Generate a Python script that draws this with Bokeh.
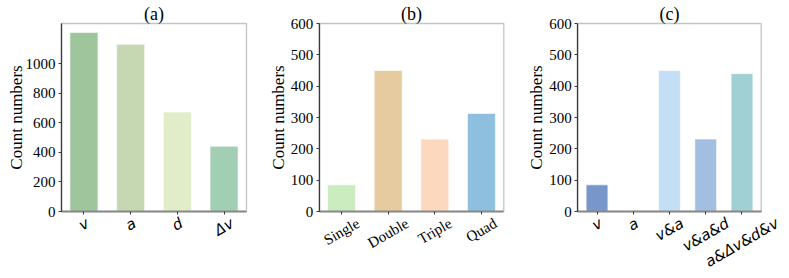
import math
from bokeh.plotting import figure
from bokeh.layouts import row
from bokeh.models import (Range1d, FixedTicker, LabelSet, Label, ColumnDataSource,
                          BoxAnnotation)
from bokeh.core.properties import value
from bokeh.embed import file_html
from bokeh.resources import INLINE

# ---------------- data ----------------
cats_a = ["v", "a", "d", "Δv"]
vals_a = [1210, 1130, 672, 441]
colors_a = ["#9ec59b", "#c5d8b2", "#e1ecc8", "#a2cfb3"]
yticks_a = [0, 200, 400, 600, 800, 1000]

cats_b = ["Single", "Double", "Triple", "Quad"]
vals_b = [85, 450, 231, 313]
colors_b = ["#cbecbe", "#e5cb9f", "#fcd9be", "#8ebfde"]
yticks_b = [0, 100, 200, 300, 400, 500, 600]

cats_c = ["v", "a", "v&a", "v&a&d", "a&Δv&d&v"]
vals_c = [85, 0, 450, 231, 440]
colors_c = ["#7896c9", "#c9e0f3", "#c4def5", "#a2bee0", "#a0d0d4"]
yticks_c = [0, 100, 200, 300, 400, 500, 600]

titles = ["(a)", "(b)", "(c)"]
ylabel = "Count numbers"

SERIF = "Liberation Serif"
SANS = "DejaVu Sans"
DARK = "#3a3a3a"

# approximate glyph widths (em) for centring rotated labels
W_SERIF = {"S": .556, "i": .278, "n": .5, "g": .5, "l": .278, "e": .444, "D": .722,
           "o": .5, "u": .5, "b": .5, "T": .611, "r": .333, "p": .5, "Q": .722,
           "a": .444, "d": .5}
W_SANS = {"v": .592, "a": .613, "d": .635, "&": .78, "Δ": .684}

FIG_H = 276
FRAME_TOP = 23
FRAME_BOT = 211


def text_width(s, table, size):
    return sum(table.get(ch, 0.55) for ch in s) * size


def make_panel(cats, vals, colors, yticks, ymax, title, label_font, label_style,
               table, fig_w, fl, fr, ylab_px):
    n = len(cats)
    idx = list(range(n))
    m = 0.05 * (n - 1 + 0.6)
    x0, x1 = -0.3 - m, n - 1 + 0.3 + m
    u = (fr - fl) / (x1 - x0)
    k = (FRAME_BOT - FRAME_TOP) / ymax
    xr = Range1d(x0 - fl / u, x1 + (fig_w - fr) / u)
    yr = Range1d(-(FIG_H - FRAME_BOT) / k, ymax + FRAME_TOP / k)

    p = figure(width=fig_w, height=FIG_H, output_backend="svg", toolbar_location=None,
               x_range=xr, y_range=yr, min_border=0)
    p.grid.visible = False
    p.outline_line_color = None
    p.background_fill_color = "white"
    p.border_fill_color = "white"

    # frame box (spines)
    p.add_layout(BoxAnnotation(left=x0, right=x1, bottom=0, top=ymax,
                               fill_alpha=0, line_color=DARK, line_width=1.3,
                               level="underlay"))

    src = ColumnDataSource(dict(x=idx, top=vals, color=colors))
    p.vbar(x="x", top="top", width=0.6, source=src, fill_color="color",
           line_color="white", line_alpha=0.6, line_width=1)

    # y axis
    ya = p.yaxis[0]
    ya.fixed_location = x0
    ya.bounds = (0, ymax)
    ya.ticker = FixedTicker(ticks=yticks)
    ya.major_label_text_font = SERIF
    ya.major_label_text_font_size = "15px"
    ya.major_label_text_color = "black"
    ya.major_tick_out = 3
    ya.major_tick_in = 0
    ya.minor_tick_out = 0
    ya.minor_tick_in = 0
    ya.major_label_standoff = 3
    ya.axis_line_color = DARK
    ya.axis_line_width = 1.3
    ya.major_tick_line_color = DARK

    # x axis
    xa = p.xaxis[0]
    xa.fixed_location = 0
    xa.bounds = (x0, x1)
    xa.ticker = FixedTicker(ticks=idx)
    xa.major_label_overrides = {i: "" for i in idx}
    xa.major_tick_out = 3
    xa.major_tick_in = 0
    xa.minor_tick_out = 0
    xa.minor_tick_in = 0
    xa.axis_line_color = "#8a8a8a"
    xa.axis_line_width = 2
    xa.major_tick_line_color = DARK

    # rotated, centre-aligned category labels
    size = 15
    ang = math.radians(30)
    drops = []
    for c in cats:
        w = text_width(c, table, size)
        drops.append(-(4 + 0.5 * (w * math.sin(ang) + size * math.cos(ang))))
    lsrc = ColumnDataSource(dict(x=idx, y=[0] * n, text=cats, yo=drops))
    p.add_layout(LabelSet(x="x", y="y", text="text", source=lsrc, y_offset="yo",
                          angle=ang, text_align="center", text_baseline="middle",
                          text_font=value(label_font), text_font_style=value(label_style),
                          text_font_size=value(f"{size}px"), text_color="black"))

    # title
    p.add_layout(Label(x=(n - 1) / 2, y=ymax + 9.5 / k, text=title,
                       text_align="center", text_baseline="middle",
                       text_font=SERIF, text_font_size="18px", text_color="black"))
    # y label
    p.add_layout(Label(x=xr.start + ylab_px / u, y=ymax / 2, text=ylabel,
                       angle=math.pi / 2, text_align="center", text_baseline="middle",
                       text_font=SERIF, text_font_size="17px", text_color="black"))
    return p


pa = make_panel(cats_a, vals_a, colors_a, yticks_a, 1.05 * max(vals_a), titles[0],
                SANS, "italic", W_SANS, 265, 61, 246, 16)
pb = make_panel(cats_b, vals_b, colors_b, yticks_b, 600, titles[1],
                SERIF, "normal", W_SERIF, 258, 53.7, 238.3, 13)
pc = make_panel(cats_c, vals_c, colors_c, yticks_c, 600, titles[2],
                SANS, "italic", W_SANS, 265, 54.3, 237.7, 12.5)

layout = row(pa, pb, pc, spacing=0)
open("out.html", "w").write(file_html(layout, INLINE))
